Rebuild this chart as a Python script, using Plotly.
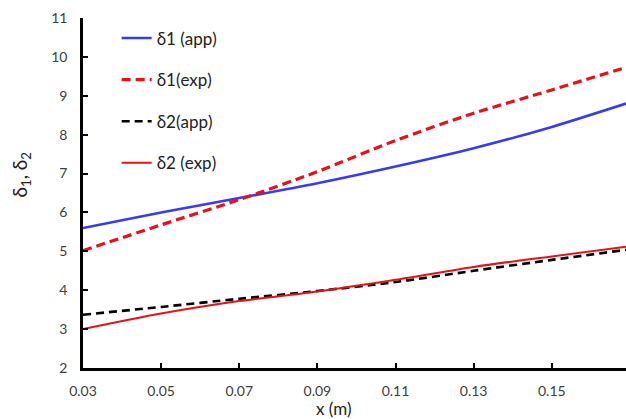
import plotly.graph_objects as go

x_vals = [0.03, 0.05, 0.07, 0.09, 0.11, 0.13, 0.15, 0.169]
d1_app = [5.6, 6.0, 6.37, 6.75, 7.18, 7.65, 8.2, 8.8]
d1_exp = [5.02, 5.68, 6.33, 7.05, 7.85, 8.55, 9.15, 9.73]
d2_app = [3.37, 3.57, 3.78, 3.98, 4.21, 4.5, 4.78, 5.04]
d2_exp = [3.0, 3.4, 3.72, 3.97, 4.27, 4.6, 4.87, 5.12]

x_ticks = [0.03, 0.05, 0.07, 0.09, 0.11, 0.13, 0.15]
y_ticks = [2, 3, 4, 5, 6, 7, 8, 9, 10, 11]

series = [
    ("δ1 (app)", d1_app, "#3a3af2", "solid", 2.6),
    ("δ1(exp)", d1_exp, "#e8101a", "9px,5px", 3.2),
    ("δ2(app)", d2_app, "#000000", "8px,5px", 2.6),
    ("δ2 (exp)", d2_exp, "#e8101a", "solid", 2.0),
]

fig = go.Figure()
for i, (name, ys, color, dash, w) in enumerate(series):
    fig.add_trace(go.Scatter(
        x=x_vals, y=ys, name=name, mode="lines",
        line=dict(color=color, dash=dash, width=w, shape="spline", smoothing=0.8),
        legendgroup=f"g{i}",
    ))

font_family = "Lato, 'Open Sans', sans-serif"
fig.update_layout(
    width=626, height=419,
    margin=dict(l=83, r=0, t=18, b=51),
    paper_bgcolor="white", plot_bgcolor="white",
    font=dict(family=font_family, color="#404040", size=14),
    showlegend=True,
    legend=dict(
        x=0.062, y=0.993, xanchor="left", yanchor="top",
        bgcolor="rgba(0,0,0,0)", tracegroupgap=16.5,
        font=dict(size=17, color="#222222", family=font_family),
    ),
    xaxis=dict(
        range=[0.03, 0.169], tickvals=x_ticks,
        ticktext=[f"{v:.2f}" for v in x_ticks],
        showgrid=False, zeroline=False,
        showline=True, linecolor="black", linewidth=2.5,
        ticks="inside", ticklen=5, tickwidth=2, tickcolor="black",
        ticklabelstandoff=8,
        tickfont=dict(size=14, color="#404040"),
    ),
    yaxis=dict(
        range=[2, 11], tickvals=y_ticks,
        showgrid=False, zeroline=False,
        showline=True, linecolor="black", linewidth=2.5,
        ticks="inside", ticklen=5, tickwidth=2, tickcolor="black",
        ticklabelstandoff=10,
        tickfont=dict(size=14, color="#404040"),
    ),
    annotations=[
        dict(text="x (m)", xref="paper", yref="paper", x=(333 - 83) / 543, y=-0.115,
             xanchor="center", yanchor="middle", showarrow=False,
             font=dict(size=17, color="#222222", family=font_family)),
        dict(text="δ<sub>1</sub>, δ<sub>2</sub>", xref="paper", yref="paper",
             x=-0.115, y=(368 - 175) / 350, xanchor="center", yanchor="middle",
             textangle=-90, showarrow=False,
             font=dict(size=19, color="#222222", family=font_family)),
    ],
)

fig.write_html("out.html")
